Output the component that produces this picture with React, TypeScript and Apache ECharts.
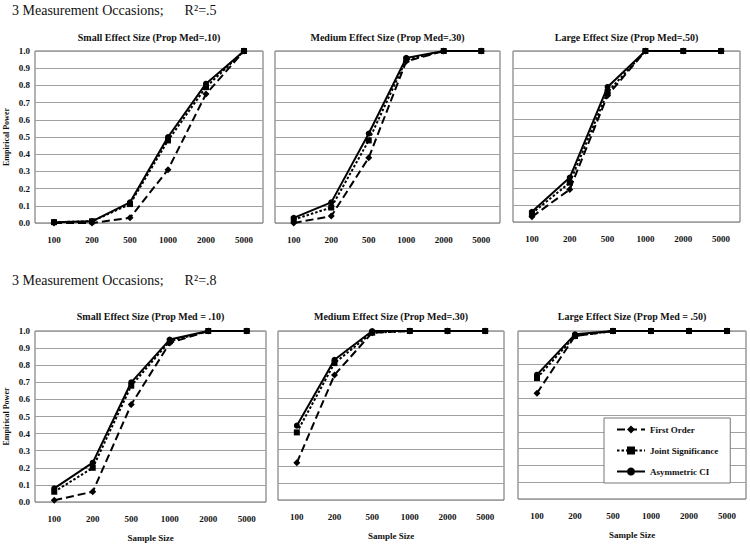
import React, { useEffect, useRef } from "react";
import * as echarts from "echarts";

const sampleSizes = ["100", "200", "500", "1000", "2000", "5000"];
const yTicks = ["0.0", "0.1", "0.2", "0.3", "0.4", "0.5", "0.6", "0.7", "0.8", "0.9", "1.0"];
const seriesNames = ["First Order", "Joint Significance", "Asymmetric CI"];

const rowHeaders = ["3 Measurement Occasions;      R²=.5", "3 Measurement Occasions;      R²=.8"];
const panelTitles = [
  "Small Effect Size (Prop Med=.10)",
  "Medium Effect Size (Prop Med=.30)",
  "Large Effect Size (Prop Med=.50)",
  "Small Effect Size (Prop Med = .10)",
  "Medium Effect Size (Prop Med=.30)",
  "Large Effect Size (Prop Med = .50)",
];

// R2 = .5
const smallR5First = [0.0, 0.0, 0.03, 0.31, 0.75, 1.0];
const smallR5Joint = [0.005, 0.01, 0.11, 0.48, 0.79, 1.0];
const smallR5Asym = [0.005, 0.01, 0.12, 0.5, 0.81, 1.0];
const mediumR5First = [0.0, 0.04, 0.38, 0.94, 1.0, 1.0];
const mediumR5Joint = [0.02, 0.09, 0.48, 0.95, 1.0, 1.0];
const mediumR5Asym = [0.03, 0.12, 0.52, 0.96, 1.0, 1.0];
const largeR5First = [0.03, 0.19, 0.74, 1.0, 1.0, 1.0];
const largeR5Joint = [0.05, 0.23, 0.76, 1.0, 1.0, 1.0];
const largeR5Asym = [0.06, 0.26, 0.79, 1.0, 1.0, 1.0];
// R2 = .8
const smallR8First = [0.01, 0.06, 0.57, 0.93, 1.0, 1.0];
const smallR8Joint = [0.06, 0.2, 0.68, 0.94, 1.0, 1.0];
const smallR8Asym = [0.08, 0.23, 0.7, 0.95, 1.0, 1.0];
const mediumR8First = [0.22, 0.74, 0.99, 1.0, 1.0, 1.0];
const mediumR8Joint = [0.4, 0.81, 0.99, 1.0, 1.0, 1.0];
const mediumR8Asym = [0.44, 0.83, 1.0, 1.0, 1.0, 1.0];
const largeR8First = [0.63, 0.97, 1.0, 1.0, 1.0, 1.0];
const largeR8Joint = [0.72, 0.97, 1.0, 1.0, 1.0, 1.0];
const largeR8Asym = [0.74, 0.98, 1.0, 1.0, 1.0, 1.0];

const panelData = [
  [smallR5First, smallR5Joint, smallR5Asym],
  [mediumR5First, mediumR5Joint, mediumR5Asym],
  [largeR5First, largeR5Joint, largeR5Asym],
  [smallR8First, smallR8Joint, smallR8Asym],
  [mediumR8First, mediumR8Joint, mediumR8Asym],
  [largeR8First, largeR8Joint, largeR8Asym],
];

const grids = [
  { left: 35, top: 51, width: 228, height: 172 },
  { left: 275, top: 51, width: 225, height: 172 },
  { left: 513, top: 51, width: 227, height: 171 },
  { left: 35, top: 331, width: 231, height: 171 },
  { left: 278, top: 331, width: 226, height: 169 },
  { left: 518, top: 331, width: 228, height: 168 },
];

const FONT = "'Liberation Serif', 'Times New Roman', serif";

const styles = [
  { symbol: "diamond", symbolSize: 7, lineType: [8, 4] as any },
  { symbol: "rect", symbolSize: 6, lineType: [2.5, 2] as any },
  { symbol: "circle", symbolSize: 6, lineType: "solid" as any },
];

export default function App() {
  const ref = useRef<HTMLDivElement>(null);
  useEffect(() => {
    if (!ref.current) return;
    const chart = echarts.init(ref.current, undefined, { renderer: "svg" });
    const series: any[] = [];
    panelData.forEach((panel, gi) => {
      panel.forEach((vals, si) => {
        series.push({
          type: "line",
          name: seriesNames[si],
          xAxisIndex: gi,
          yAxisIndex: gi,
          data: vals,
          symbol: styles[si].symbol,
          symbolSize: styles[si].symbolSize,
          itemStyle: { color: "#000" },
          lineStyle: { color: "#000", width: 2, type: styles[si].lineType },
          z: 3 + si,
        });
      });
    });
    const titles: any[] = [];
    rowHeaders.forEach((t, i) => {
      titles.push({
        text: t,
        left: 12,
        top: i === 0 ? 3 : 273,
        textStyle: { fontFamily: FONT, fontSize: 14, fontWeight: "normal", color: "#111" },
        padding: 0,
      });
    });
    panelTitles.forEach((t, i) => {
      const g = grids[i];
      titles.push({
        text: t,
        left: g.left + g.width / 2,
        textAlign: "center",
        top: i < 3 ? 32 : 311,
        padding: 0,
        textStyle: { fontFamily: FONT, fontSize: 10, fontWeight: "bold", color: "#111" },
      });
    });
    chart.setOption({
      animation: false,
      backgroundColor: "#fff",
      title: titles,
      grid: grids.map((g) => ({ ...g, show: true, borderColor: "#666", borderWidth: 1, backgroundColor: "transparent" })),
      xAxis: grids.map((g, i) => ({
        type: "category",
        gridIndex: i,
        data: sampleSizes,
        boundaryGap: true,
        axisTick: { show: false },
        axisLine: { show: false },
        axisLabel: { fontFamily: FONT, fontSize: 9, fontWeight: "bold", color: "#111", margin: 12 },
        name: i >= 3 ? "Sample Size" : "",
        nameLocation: "middle",
        nameGap: 31,
        nameTextStyle: { fontFamily: FONT, fontSize: 9, fontWeight: "bold", color: "#111" },
      })),
      yAxis: grids.map((g, i) => ({
        type: "value",
        gridIndex: i,
        min: 0,
        max: 1,
        interval: 0.1,
        axisTick: { show: false },
        axisLine: { show: false },
        splitLine: { show: true, lineStyle: { color: "#a0a0a0", width: 1 } },
        axisLabel: {
          show: i === 0 || i === 3,
          fontFamily: FONT,
          fontSize: 9,
          fontWeight: "bold",
          color: "#111",
          margin: 5,
          formatter: (v: number) => yTicks[Math.round(v * 10)],
        },
        name: i === 0 || i === 3 ? "Empirical Power" : "",
        nameLocation: "middle",
        nameGap: 25,
        nameRotate: 90,
        nameTextStyle: { fontFamily: FONT, fontSize: 8, fontWeight: "bold", color: "#111" },
      })),
      legend: {
        data: seriesNames,
        orient: "vertical",
        left: 604,
        top: 418,
        itemWidth: 28,
        itemHeight: 10,
        itemGap: 12,
        padding: [7, 12, 7, 12],
        borderColor: "#777",
        borderWidth: 1,
        backgroundColor: "#fff",
        textStyle: { fontFamily: FONT, fontSize: 9, fontWeight: "bold", color: "#111" },
      },
      series,
    });
    return () => chart.dispose();
  }, []);
  return (
    <div
      ref={ref}
      style={{ position: "absolute", left: 0, top: 0, width: 750, height: 544, background: "#fff" }}
    />
  );
}
